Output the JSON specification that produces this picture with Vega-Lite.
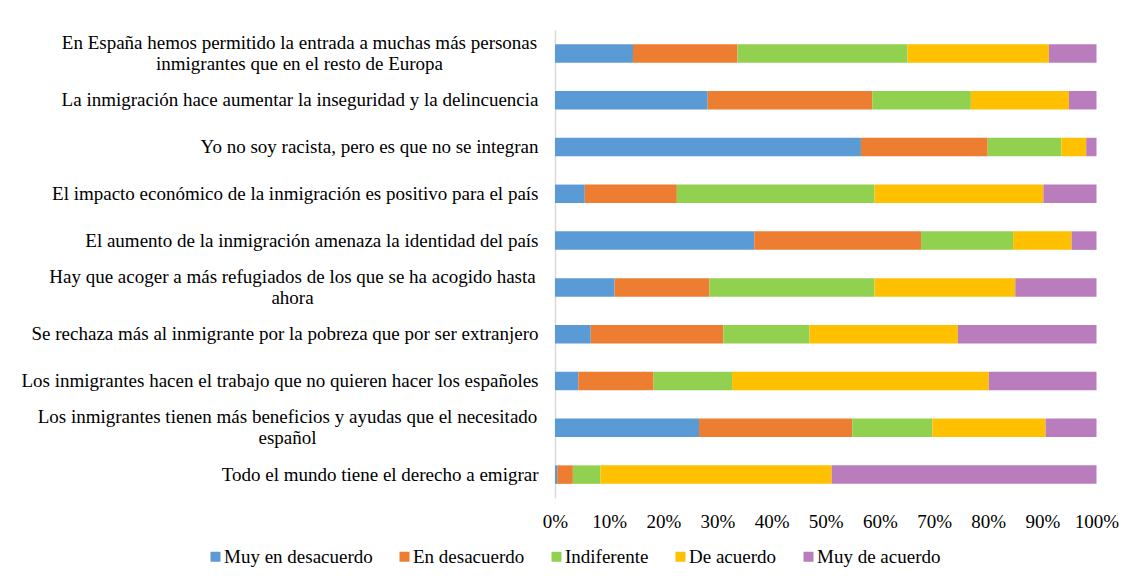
{
  "$schema": "https://vega.github.io/schema/vega-lite/v6.json",
  "width": 541.5,
  "height": 468,
  "autosize": {"type": "none"},
  "padding": {"left": 555, "top": 30, "right": 31.5, "bottom": 78},
  "background": "white",
  "config": {"view": {"stroke": null}, "font": "Liberation Serif"},
  "data": {
    "values": [
      {"item": "En España hemos permitido la entrada a muchas más personas inmigrantes que en el resto de Europa", "nivel": 1, "resp": "Muy en desacuerdo", "pct": 14.4},
      {"item": "En España hemos permitido la entrada a muchas más personas inmigrantes que en el resto de Europa", "nivel": 2, "resp": "En desacuerdo", "pct": 19.3},
      {"item": "En España hemos permitido la entrada a muchas más personas inmigrantes que en el resto de Europa", "nivel": 3, "resp": "Indiferente", "pct": 31.4},
      {"item": "En España hemos permitido la entrada a muchas más personas inmigrantes que en el resto de Europa", "nivel": 4, "resp": "De acuerdo", "pct": 26.1},
      {"item": "En España hemos permitido la entrada a muchas más personas inmigrantes que en el resto de Europa", "nivel": 5, "resp": "Muy de acuerdo", "pct": 8.8},
      {"item": "La inmigración hace aumentar la inseguridad y la delincuencia", "nivel": 1, "resp": "Muy en desacuerdo", "pct": 28.2},
      {"item": "La inmigración hace aumentar la inseguridad y la delincuencia", "nivel": 2, "resp": "En desacuerdo", "pct": 30.4},
      {"item": "La inmigración hace aumentar la inseguridad y la delincuencia", "nivel": 3, "resp": "Indiferente", "pct": 18.2},
      {"item": "La inmigración hace aumentar la inseguridad y la delincuencia", "nivel": 4, "resp": "De acuerdo", "pct": 18.1},
      {"item": "La inmigración hace aumentar la inseguridad y la delincuencia", "nivel": 5, "resp": "Muy de acuerdo", "pct": 5.1},
      {"item": "Yo no soy racista, pero es que no se integran", "nivel": 1, "resp": "Muy en desacuerdo", "pct": 56.5},
      {"item": "Yo no soy racista, pero es que no se integran", "nivel": 2, "resp": "En desacuerdo", "pct": 23.4},
      {"item": "Yo no soy racista, pero es que no se integran", "nivel": 3, "resp": "Indiferente", "pct": 13.6},
      {"item": "Yo no soy racista, pero es que no se integran", "nivel": 4, "resp": "De acuerdo", "pct": 4.6},
      {"item": "Yo no soy racista, pero es que no se integran", "nivel": 5, "resp": "Muy de acuerdo", "pct": 1.9},
      {"item": "El impacto económico de la inmigración es positivo para el país", "nivel": 1, "resp": "Muy en desacuerdo", "pct": 5.5},
      {"item": "El impacto económico de la inmigración es positivo para el país", "nivel": 2, "resp": "En desacuerdo", "pct": 17.0},
      {"item": "El impacto económico de la inmigración es positivo para el país", "nivel": 3, "resp": "Indiferente", "pct": 36.5},
      {"item": "El impacto económico de la inmigración es positivo para el país", "nivel": 4, "resp": "De acuerdo", "pct": 31.2},
      {"item": "El impacto económico de la inmigración es positivo para el país", "nivel": 5, "resp": "Muy de acuerdo", "pct": 9.8},
      {"item": "El aumento de la inmigración amenaza la identidad del país", "nivel": 1, "resp": "Muy en desacuerdo", "pct": 36.8},
      {"item": "El aumento de la inmigración amenaza la identidad del país", "nivel": 2, "resp": "En desacuerdo", "pct": 30.8},
      {"item": "El aumento de la inmigración amenaza la identidad del país", "nivel": 3, "resp": "Indiferente", "pct": 17.0},
      {"item": "El aumento de la inmigración amenaza la identidad del país", "nivel": 4, "resp": "De acuerdo", "pct": 10.8},
      {"item": "El aumento de la inmigración amenaza la identidad del país", "nivel": 5, "resp": "Muy de acuerdo", "pct": 4.6},
      {"item": "Hay que acoger a más refugiados de los que se ha acogido hasta ahora", "nivel": 1, "resp": "Muy en desacuerdo", "pct": 11.0},
      {"item": "Hay que acoger a más refugiados de los que se ha acogido hasta ahora", "nivel": 2, "resp": "En desacuerdo", "pct": 17.5},
      {"item": "Hay que acoger a más refugiados de los que se ha acogido hasta ahora", "nivel": 3, "resp": "Indiferente", "pct": 30.5},
      {"item": "Hay que acoger a más refugiados de los que se ha acogido hasta ahora", "nivel": 4, "resp": "De acuerdo", "pct": 26.0},
      {"item": "Hay que acoger a más refugiados de los que se ha acogido hasta ahora", "nivel": 5, "resp": "Muy de acuerdo", "pct": 15.0},
      {"item": "Se rechaza más al inmigrante por la pobreza que por ser extranjero", "nivel": 1, "resp": "Muy en desacuerdo", "pct": 6.6},
      {"item": "Se rechaza más al inmigrante por la pobreza que por ser extranjero", "nivel": 2, "resp": "En desacuerdo", "pct": 24.5},
      {"item": "Se rechaza más al inmigrante por la pobreza que por ser extranjero", "nivel": 3, "resp": "Indiferente", "pct": 15.9},
      {"item": "Se rechaza más al inmigrante por la pobreza que por ser extranjero", "nivel": 4, "resp": "De acuerdo", "pct": 27.4},
      {"item": "Se rechaza más al inmigrante por la pobreza que por ser extranjero", "nivel": 5, "resp": "Muy de acuerdo", "pct": 25.6},
      {"item": "Los inmigrantes hacen el trabajo que no quieren hacer los españoles", "nivel": 1, "resp": "Muy en desacuerdo", "pct": 4.3},
      {"item": "Los inmigrantes hacen el trabajo que no quieren hacer los españoles", "nivel": 2, "resp": "En desacuerdo", "pct": 13.9},
      {"item": "Los inmigrantes hacen el trabajo que no quieren hacer los españoles", "nivel": 3, "resp": "Indiferente", "pct": 14.5},
      {"item": "Los inmigrantes hacen el trabajo que no quieren hacer los españoles", "nivel": 4, "resp": "De acuerdo", "pct": 47.4},
      {"item": "Los inmigrantes hacen el trabajo que no quieren hacer los españoles", "nivel": 5, "resp": "Muy de acuerdo", "pct": 19.9},
      {"item": "Los inmigrantes tienen más beneficios y ayudas que el necesitado español", "nivel": 1, "resp": "Muy en desacuerdo", "pct": 26.6},
      {"item": "Los inmigrantes tienen más beneficios y ayudas que el necesitado español", "nivel": 2, "resp": "En desacuerdo", "pct": 28.3},
      {"item": "Los inmigrantes tienen más beneficios y ayudas que el necesitado español", "nivel": 3, "resp": "Indiferente", "pct": 14.8},
      {"item": "Los inmigrantes tienen más beneficios y ayudas que el necesitado español", "nivel": 4, "resp": "De acuerdo", "pct": 20.9},
      {"item": "Los inmigrantes tienen más beneficios y ayudas que el necesitado español", "nivel": 5, "resp": "Muy de acuerdo", "pct": 9.4},
      {"item": "Todo el mundo tiene el derecho a emigrar", "nivel": 1, "resp": "Muy en desacuerdo", "pct": 0.4},
      {"item": "Todo el mundo tiene el derecho a emigrar", "nivel": 2, "resp": "En desacuerdo", "pct": 2.9},
      {"item": "Todo el mundo tiene el derecho a emigrar", "nivel": 3, "resp": "Indiferente", "pct": 5.1},
      {"item": "Todo el mundo tiene el derecho a emigrar", "nivel": 4, "resp": "De acuerdo", "pct": 42.7},
      {"item": "Todo el mundo tiene el derecho a emigrar", "nivel": 5, "resp": "Muy de acuerdo", "pct": 48.9}
    ]
  },
  "mark": {"type": "bar"},
  "encoding": {
    "y": {
      "field": "item",
      "type": "nominal",
      "sort": null,
      "scale": {"paddingInner": 0.605, "paddingOuter": 0.3025},
      "axis": {
        "title": null,
        "ticks": false,
        "tickSize": 0,
        "labelFontSize": 19,
        "labelFont": "Liberation Serif",
        "labelColor": "black",
        "labelLimit": 0,
        "labelLineHeight": 21,
        "domainColor": "#d9d9d9",
        "domainWidth": 1.5,
        "labelAlign": {"condition": {"test": "indexof(datum.value, 'En España') == 0 || indexof(datum.value, 'Hay que acoger') == 0 || indexof(datum.value, 'ayudas que el necesitado') > 0", "value": "center"}, "value": "right"},
        "labelOffset": {"condition": {"test": "indexof(datum.value, 'En España') == 0 || indexof(datum.value, 'Hay que acoger') == 0 || indexof(datum.value, 'ayudas que el necesitado') > 0", "value": -10.5}, "value": 0},
        "labelPadding": {"condition": [
          {"test": "indexof(datum.value, 'En España') == 0", "value": 256},
          {"test": "indexof(datum.value, 'Hay que acoger') == 0", "value": 263},
          {"test": "indexof(datum.value, 'ayudas que el necesitado') > 0", "value": 268}
        ], "value": 17},
        "labelExpr": "datum.value == 'En España hemos permitido la entrada a muchas más personas inmigrantes que en el resto de Europa' ? ['En España hemos permitido la entrada a muchas más personas', 'inmigrantes que en el resto de Europa'] : datum.value == 'Hay que acoger a más refugiados de los que se ha acogido hasta ahora' ? ['Hay que acoger a más refugiados de los que se ha acogido hasta', 'ahora'] : datum.value == 'Los inmigrantes tienen más beneficios y ayudas que el necesitado español' ? ['Los inmigrantes tienen más beneficios y ayudas que el necesitado', 'español'] : datum.label"
      }
    },
    "x": {
      "field": "pct",
      "type": "quantitative",
      "stack": "normalize",
      "scale": {"domain": [0, 1]},
      "axis": {
        "title": null,
        "format": "%",
        "values": [0, 0.1, 0.2, 0.3, 0.4, 0.5, 0.6, 0.7, 0.8, 0.9, 1],
        "grid": false,
        "domain": false,
        "ticks": false,
        "tickSize": 0,
        "labelPadding": 14,
        "labelFontSize": 19,
        "labelFont": "Liberation Serif",
        "labelColor": "black",
        "labelFlush": false,
        "labelOverlap": false
      }
    },
    "color": {
      "field": "resp",
      "type": "nominal",
      "sort": ["Muy en desacuerdo", "En desacuerdo", "Indiferente", "De acuerdo", "Muy de acuerdo"],
      "scale": {
        "domain": ["Muy en desacuerdo", "En desacuerdo", "Indiferente", "De acuerdo", "Muy de acuerdo"],
        "range": ["#5b9bd5", "#ed7d31", "#92d050", "#ffc000", "#b97cbd"]
      },
      "legend": {
        "title": null,
        "orient": "none",
        "direction": "horizontal",
        "legendX": -349,
        "legendY": 517,
        "padding": 0,
        "symbolType": "square",
        "symbolSize": 100,
        "symbolStrokeWidth": 0,
        "labelFontSize": 19,
        "labelFont": "Liberation Serif",
        "labelColor": "black",
        "labelOffset": -1,
        "columnPadding": 22,
        "labelLimit": 0
      }
    },
    "order": {"field": "nivel", "type": "quantitative", "sort": "ascending"}
  }
}
